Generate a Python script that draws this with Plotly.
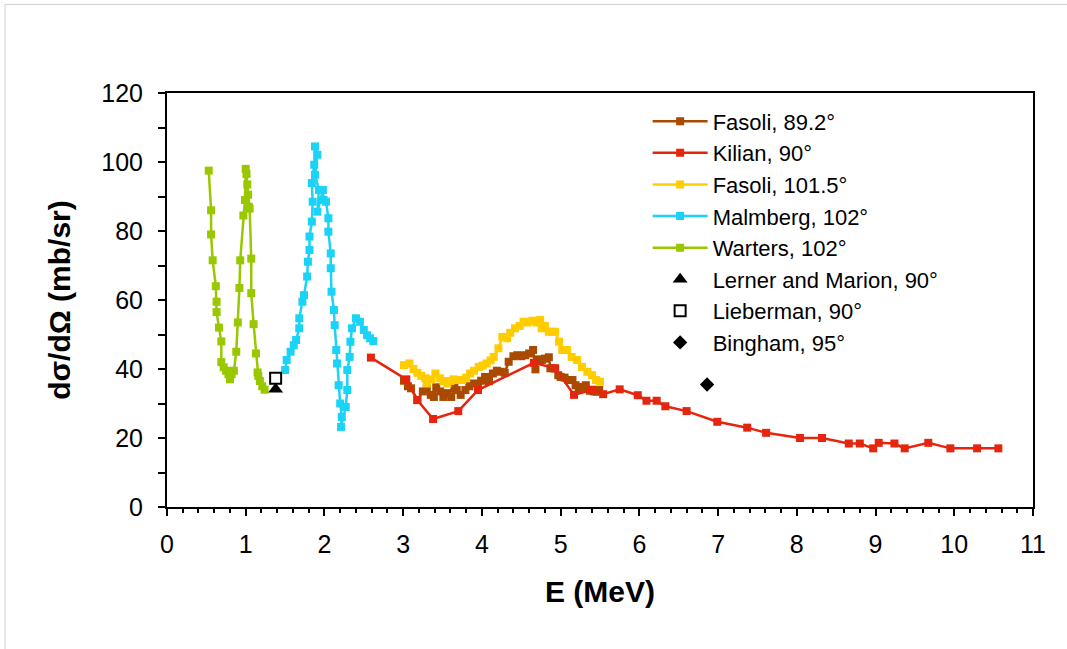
import plotly.graph_objects as go

# ---------------- data ----------------
warters_x = [0.53, 0.56, 0.56, 0.58, 0.62, 0.63, 0.63, 0.66, 0.69, 0.69, 0.72, 0.75, 0.78, 0.80, 0.82, 0.85,
             0.88, 0.90, 0.92, 0.93, 0.97, 0.99, 1.00, 1.01, 1.02, 1.03, 1.04, 1.05, 1.07, 1.07, 1.10, 1.13,
             1.15, 1.16, 1.18, 1.21, 1.24]
warters_y = [97.5, 86, 79, 71.5, 64, 59.5, 56.5, 52, 48, 42, 40.5, 39.5, 38.5, 37, 38.5, 39.5,
             45, 53.5, 63.5, 71.5, 84.5, 89, 98, 96.5, 93.5, 90.5, 87, 86.5, 72, 62, 53, 44.5,
             39, 38, 36.5, 35, 34]

malmberg_x = [1.50, 1.52, 1.57, 1.61, 1.64, 1.68, 1.68, 1.72, 1.74, 1.78, 1.79, 1.81, 1.81, 1.84, 1.85,
              1.84, 1.87, 1.88, 1.91, 1.88, 1.93, 1.91, 1.98, 1.99, 2.02, 2.05, 2.05, 2.08, 2.08, 2.09,
              2.12, 2.13, 2.15, 2.16, 2.18, 2.20, 2.22, 2.21, 2.27, 2.29, 2.29, 2.32, 2.33, 2.35, 2.40,
              2.45, 2.50, 2.54, 2.58, 2.62]
malmberg_y = [39.7, 42.6, 45.0, 46.9, 48.4, 51.8, 54.7, 59.5, 61.4, 66.8, 71.1, 74.5, 78.4, 82.7, 88.5,
              93.9, 99.2, 104.5, 102.1, 96.3, 91.9, 85.6, 91.9, 89.0, 88.5, 83.7, 79.8, 73.5, 69.2, 62.4,
              57.1, 52.7, 45.5, 41.6, 35.3, 30.0, 26.1, 23.2, 29.0, 33.9, 39.7, 43.5, 47.9, 51.8, 54.7,
              53.7, 51.3, 49.8, 48.9, 48.1]

kilian_x = [2.59, 3.04, 3.18, 3.38, 3.70, 3.95, 4.66, 4.93, 5.17, 5.40, 5.54, 5.75, 5.98, 6.09, 6.22,
            6.33, 6.60, 6.99, 7.37, 7.61, 8.04, 8.32, 8.66, 8.80, 8.97, 9.04, 9.24, 9.37, 9.67, 9.95,
            10.29, 10.56]
kilian_y = [43.3, 37.0, 31.0, 25.5, 27.8, 33.9, 41.8, 40.2, 32.5, 34.0, 32.7, 34.1, 32.4, 30.8, 30.8,
            29.2, 27.8, 24.7, 23.0, 21.5, 20.0, 20.0, 18.4, 18.4, 17.0, 18.6, 18.4, 17.0, 18.6, 17.0,
            17.0, 17.0]

fasoli89_x = [3.01, 3.06, 3.10, 3.18, 3.25, 3.30, 3.35, 3.39, 3.42, 3.47, 3.51, 3.56, 3.61, 3.65, 3.68,
              3.73, 3.79, 3.84, 3.90, 3.95, 3.99, 4.04, 4.09, 4.14, 4.19, 4.24, 4.29, 4.34, 4.40, 4.45,
              4.50, 4.55, 4.60, 4.65, 4.68, 4.72, 4.76, 4.80, 4.85, 4.87, 4.92, 4.97, 5.00, 5.05, 5.10,
              5.15, 5.19, 5.23, 5.28, 5.32, 5.37, 5.42, 5.46, 5.49]
fasoli89_y = [36.6, 35.0, 34.4, 31.0, 33.5, 34.4, 32.5, 31.9, 34.7, 33.5, 31.9, 33.0, 31.9, 34.5, 33.9,
              32.5, 33.9, 35.0, 35.8, 35.0, 36.6, 37.7, 36.5, 38.7, 39.5, 39.2, 38.9, 42.1, 43.7, 44.0,
              43.7, 44.0, 44.5, 45.5, 39.9, 42.8, 42.6, 43.0, 43.4, 40.2, 40.2, 38.2, 37.7, 37.5, 36.8,
              36.8, 35.3, 33.9, 34.8, 35.3, 33.7, 33.5, 33.4, 33.9]

fasoli101_x = [3.01, 3.08, 3.13, 3.18, 3.23, 3.28, 3.30, 3.36, 3.41, 3.47, 3.51, 3.56, 3.60, 3.64, 3.70,
               3.75, 3.80, 3.85, 3.90, 3.96, 4.01, 4.06, 4.11, 4.15, 4.21, 4.26, 4.32, 4.36, 4.42, 4.48,
               4.53, 4.58, 4.64, 4.69, 4.74, 4.76, 4.80, 4.85, 4.89, 4.93, 4.98, 5.02, 5.08, 5.14, 5.21,
               5.27, 5.34, 5.40, 5.45, 5.50]
fasoli101_y = [41.1, 41.6, 40.0, 38.9, 38.0, 37.3, 35.8, 37.0, 38.7, 37.3, 36.5, 35.8, 36.5, 37.0, 36.8,
               36.8, 37.5, 38.7, 39.5, 40.6, 41.0, 41.6, 42.5, 43.5, 46.0, 49.3, 48.9, 50.5, 51.8, 52.5,
               53.7, 53.5, 54.0, 53.5, 54.2, 51.8, 52.5, 50.8, 50.8, 50.8, 47.9, 45.5, 45.5, 43.5, 42.6,
               40.6, 39.2, 38.2, 36.8, 36.3]

lerner_x, lerner_y = [1.38], [34.1]
lieberman_x, lieberman_y = [1.38], [37.3]
bingham_x, bingham_y = [6.86], [35.5]

FONT = "Arial, Liberation Sans, sans-serif"

fig = go.Figure()

def line_series(name, x, y, color):
    fig.add_trace(go.Scatter(
        x=x, y=y, name=name, mode="lines+markers",
        line=dict(color=color, width=2.5),
        marker=dict(symbol="square", size=8, color=color),
    ))

line_series("Fasoli, 89.2°", fasoli89_x, fasoli89_y, "#A94A00")
line_series("Kilian, 90°", kilian_x, kilian_y, "#E5250E")
line_series("Fasoli, 101.5°", fasoli101_x, fasoli101_y, "#FFCC00")
line_series("Malmberg, 102°", malmberg_x, malmberg_y, "#1BD2F7")
line_series("Warters, 102°", warters_x, warters_y, "#99C800")

fig.add_trace(go.Scatter(x=lerner_x, y=lerner_y, name="Lerner and Marion, 90°", mode="markers",
                         marker=dict(symbol="triangle-up", size=13, color="black")))
fig.add_trace(go.Scatter(x=lieberman_x, y=lieberman_y, name="Lieberman, 90°", mode="markers",
                         marker=dict(symbol="square", size=11, color="white",
                                     line=dict(color="black", width=2))))
fig.add_trace(go.Scatter(x=bingham_x, y=bingham_y, name="Bingham, 95°", mode="markers",
                         marker=dict(symbol="diamond", size=11, color="black")))

fig.update_layout(
    width=1067, height=649,
    margin=dict(l=167, r=34, t=93, b=142),
    paper_bgcolor="white", plot_bgcolor="white",
    font=dict(family=FONT, size=24, color="black"),
    showlegend=True,
    legend=dict(x=0.555, y=0.982, xanchor="left", yanchor="top",
                bgcolor="rgba(0,0,0,0)", font=dict(size=22, family=FONT),
                itemwidth=55, tracegroupgap=0),
    xaxis=dict(range=[0, 11], dtick=1, tick0=0, showgrid=False, zeroline=False,
               showline=True, linecolor="black", linewidth=2, mirror=True,
               ticks="outside", ticklen=7, tickwidth=2, tickcolor="black",
               minor=dict(dtick=0.2, ticks="outside", ticklen=4, tickwidth=2, tickcolor="black"),
               tickfont=dict(size=25, family=FONT), ticklabelstandoff=7,
               title=dict(text="<b>E (MeV)</b>", font=dict(size=30, family=FONT), standoff=24)),
    yaxis=dict(range=[0, 120], dtick=20, tick0=0, showgrid=False, zeroline=False,
               showline=True, linecolor="black", linewidth=2, mirror=True,
               ticks="outside", ticklen=7, tickwidth=2, tickcolor="black",
               minor=dict(dtick=10, ticks="outside", ticklen=7, tickwidth=2, tickcolor="black"),
               tickfont=dict(size=25, family=FONT), ticklabelstandoff=10,
               title=dict(text="<b>dσ/dΩ (mb/sr)</b>", font=dict(size=30, family=FONT), standoff=22)),
    shapes=[
        dict(type="line", xref="paper", yref="paper", x0=-0.187, x1=1.05, y0=1.214, y1=1.214,
             line=dict(color="#d0d0d0", width=1)),
        dict(type="line", xref="paper", yref="paper", x0=-0.187, x1=-0.187, y0=1.214, y1=-0.35,
             line=dict(color="#d0d0d0", width=1)),
    ],
)

fig.write_html("out.html")
